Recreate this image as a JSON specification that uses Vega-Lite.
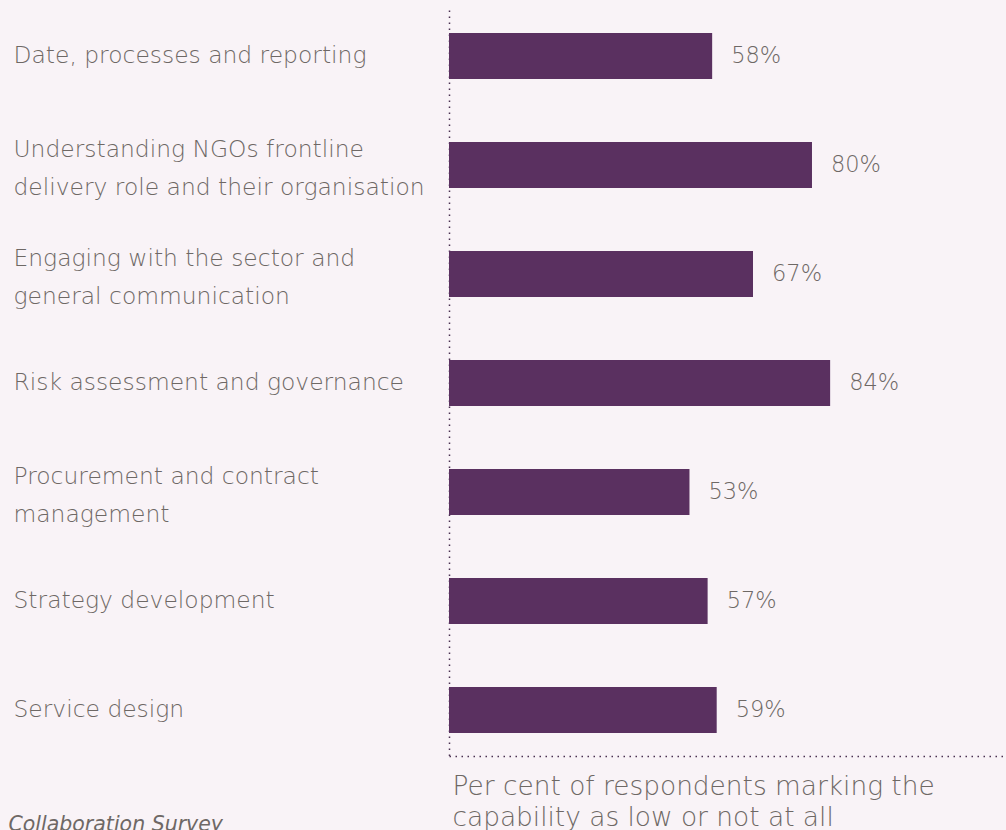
{
  "$schema": "https://vega.github.io/schema/vega-lite/v6.json",
  "width": 557,
  "height": 746,
  "autosize": {"type": "none"},
  "padding": {"left": 449, "top": 10, "right": 0, "bottom": 74},
  "background": "#f9f3f7",
  "config": {"view": {"stroke": null}, "font": "DejaVu Sans"},
  "data": {
    "values": [
      {"capability": "Date, processes and reporting", "pct": 0.58},
      {"capability": "Understanding NGOs frontline\ndelivery role and their organisation", "pct": 0.80},
      {"capability": "Engaging with the sector and\ngeneral communication", "pct": 0.67},
      {"capability": "Risk assessment and governance", "pct": 0.84},
      {"capability": "Procurement and contract\nmanagement", "pct": 0.53},
      {"capability": "Strategy development", "pct": 0.57},
      {"capability": "Service design", "pct": 0.59}
    ]
  },
  "encoding": {
    "y": {
      "field": "capability",
      "type": "nominal",
      "sort": null,
      "scale": {"paddingInner": 0.578, "paddingOuter": 0.211},
      "axis": {
        "title": "Collaboration Survey",
        "titleAngle": 0,
        "titleAlign": "left",
        "titleBaseline": "top",
        "titleX": -441,
        "titleY": 804,
        "titleFont": "DejaVu Sans",
        "titleFontSize": 20.5,
        "titleFontStyle": "italic",
        "titleFontWeight": 300,
        "titleColor": "#6e6865",
        "ticks": false,
        "labelAlign": "left",
        "labelBaseline": "middle",
        "labelPadding": 436,
        "labelLimit": 0,
        "labelFont": "DejaVu Sans",
        "labelFontSize": 23.4,
        "labelFontWeight": 300,
        "labelLineHeight": 38,
        "labelColor": "#6e6865",
        "labelOffset": {"condition": {"test": "indexof(datum.value, '\\n') >= 0", "value": -15}, "value": 0},
        "labelExpr": "split(datum.value, '\\n')",
        "domainColor": "#4a3050",
        "domainDash": [1.5, 4.5],
        "domainWidth": 1.5
      }
    },
    "x": {
      "field": "pct",
      "type": "quantitative",
      "scale": {"domain": [0, 1.2276], "nice": false},
      "axis": {
        "ticks": false,
        "labels": false,
        "grid": false,
        "domainColor": "#4a3050",
        "domainDash": [1.5, 4.5],
        "domainWidth": 1.5,
        "title": ["Per cent of respondents marking the", "capability as low or not at all"],
        "titleAnchor": "start",
        "titleAlign": "left",
        "titleBaseline": "top",
        "titleX": 3,
        "titleY": 17,
        "titleFont": "DejaVu Sans",
        "titleFontSize": 26.4,
        "titleFontWeight": 300,
        "titleLineHeight": 31,
        "titleColor": "#6e6865"
      }
    }
  },
  "layer": [
    {"mark": {"type": "bar", "color": "#5a3060"}},
    {
      "mark": {"type": "text", "align": "left", "baseline": "middle", "dx": 19, "fontSize": 22.5, "fontWeight": 300, "font": "DejaVu Sans", "color": "#6e6865"},
      "encoding": {"text": {"field": "pct", "type": "quantitative", "format": ".0%"}}
    }
  ]
}
